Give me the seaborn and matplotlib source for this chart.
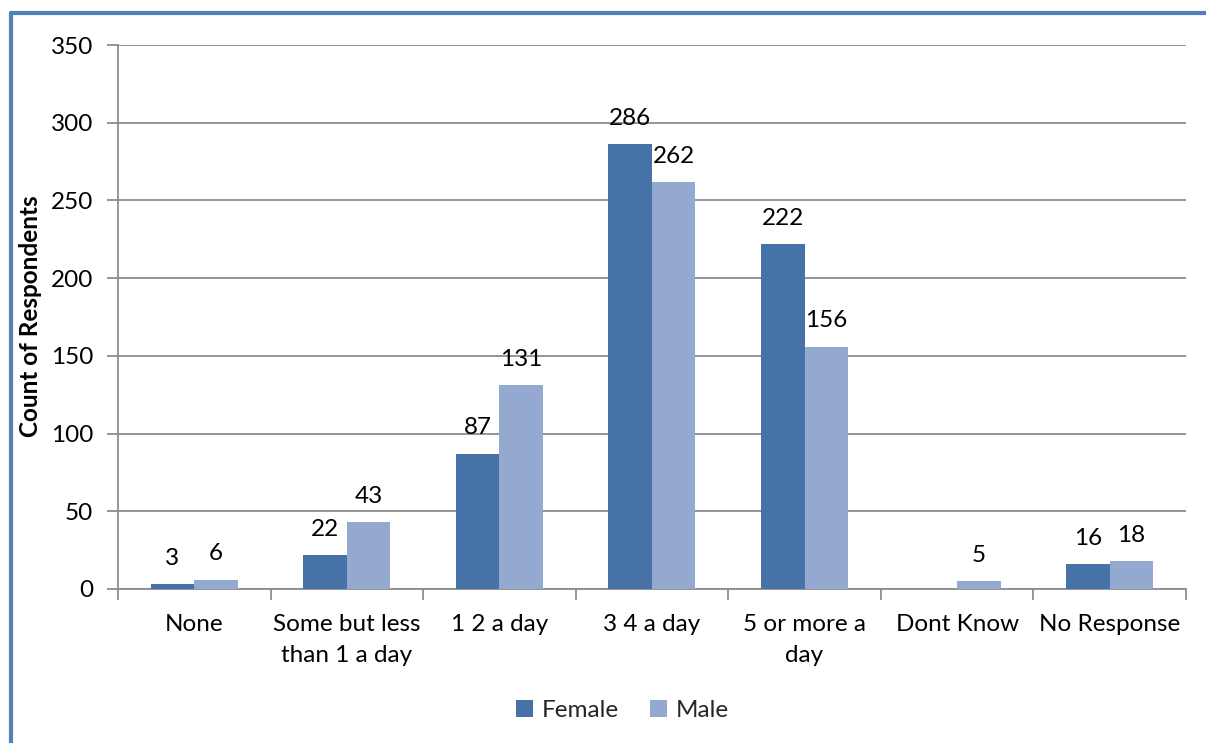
import matplotlib
matplotlib.use("Agg")
import matplotlib.pyplot as plt
from matplotlib.lines import Line2D
from matplotlib.patches import Patch
import seaborn as sns
import pandas as pd

categories = ["None", "Some but less\nthan 1 a day", "1 2 a day", "3 4 a day",
              "5 or more a\nday", "Dont Know", "No Response"]
female = [3, 22, 87, 286, 222, 0, 16]
male = [6, 43, 131, 262, 156, 5, 18]
series = ["Female", "Male"]
colors = ["#4672A8", "#94A9D0"]

df = pd.DataFrame({
    "category": categories * 2,
    "count": female + male,
    "sex": ["Female"] * len(categories) + ["Male"] * len(categories),
})

sns.set_theme(style="white")
plt.rcParams["font.family"] = ["Lato", "DejaVu Sans"]

FS = 17.5

fig = plt.figure(figsize=(12.06, 7.43), dpi=100)
ax = fig.add_axes([0.0978, 0.2073, 0.8856, 0.7321])

sns.barplot(data=df, x="category", y="count", hue="sex", order=categories,
            hue_order=series, palette=colors, width=0.57, saturation=1,
            edgecolor="none", linewidth=0, legend=False, ax=ax, zorder=3)

ax.set_ylim(0, 350)
ax.set_xlim(-0.5, len(categories) - 0.5)
ax.set_yticks(range(0, 351, 50))
ax.yaxis.grid(True, color="#8C8C8C", linewidth=1.3)
ax.set_axisbelow(True)

# category separators on the x axis
ax.set_xticks([i - 0.5 for i in range(len(categories) + 1)], minor=True)
ax.set_xticks(range(len(categories)))
ax.set_xticklabels(categories, fontsize=FS, color="black", linespacing=1.6)
ax.tick_params(axis="x", which="major", length=0, pad=18)
ax.tick_params(axis="x", which="minor", length=8, width=1.3, color="#8C8C8C",
               direction="out", bottom=True)
ax.tick_params(axis="y", length=8, width=1.3, color="#8C8C8C", direction="out",
               left=True, labelsize=FS, labelcolor="black", pad=10)

for side in ["top", "right"]:
    ax.spines[side].set_visible(False)
for side in ["left", "bottom"]:
    ax.spines[side].set_color("#8C8C8C")
    ax.spines[side].set_linewidth(1.3)

ax.set_xlabel("")
ax.set_ylabel("Count of Respondents", fontsize=17.5, fontweight="bold",
              color="black")
ax.yaxis.set_label_coords(-0.071, 0.502)

# value labels above each bar
for container, vals in zip(ax.containers, [female, male]):
    labels = [str(v) if v else "" for v in vals]
    ax.bar_label(container, labels=labels, padding=11, fontsize=FS,
                 color="black")

handles = [Patch(facecolor=c, edgecolor="none") for c in colors]
fig.legend(handles, series, loc="center", bbox_to_anchor=(0.516, 0.044),
           ncol=2, frameon=False, fontsize=FS, handlelength=0.7,
           handleheight=0.7, handletextpad=0.35, columnspacing=1.3)

# outer frame edges
frame_color = "#4F81BD"
fig.add_artist(Line2D([0.0091, 0.0091], [0.0, 0.982], color=frame_color,
                      linewidth=3, transform=fig.transFigure))
fig.add_artist(Line2D([0.0091, 1.0], [0.982, 0.982], color=frame_color,
                      linewidth=3, transform=fig.transFigure))

fig.savefig("out.png", dpi=100, facecolor="white")
